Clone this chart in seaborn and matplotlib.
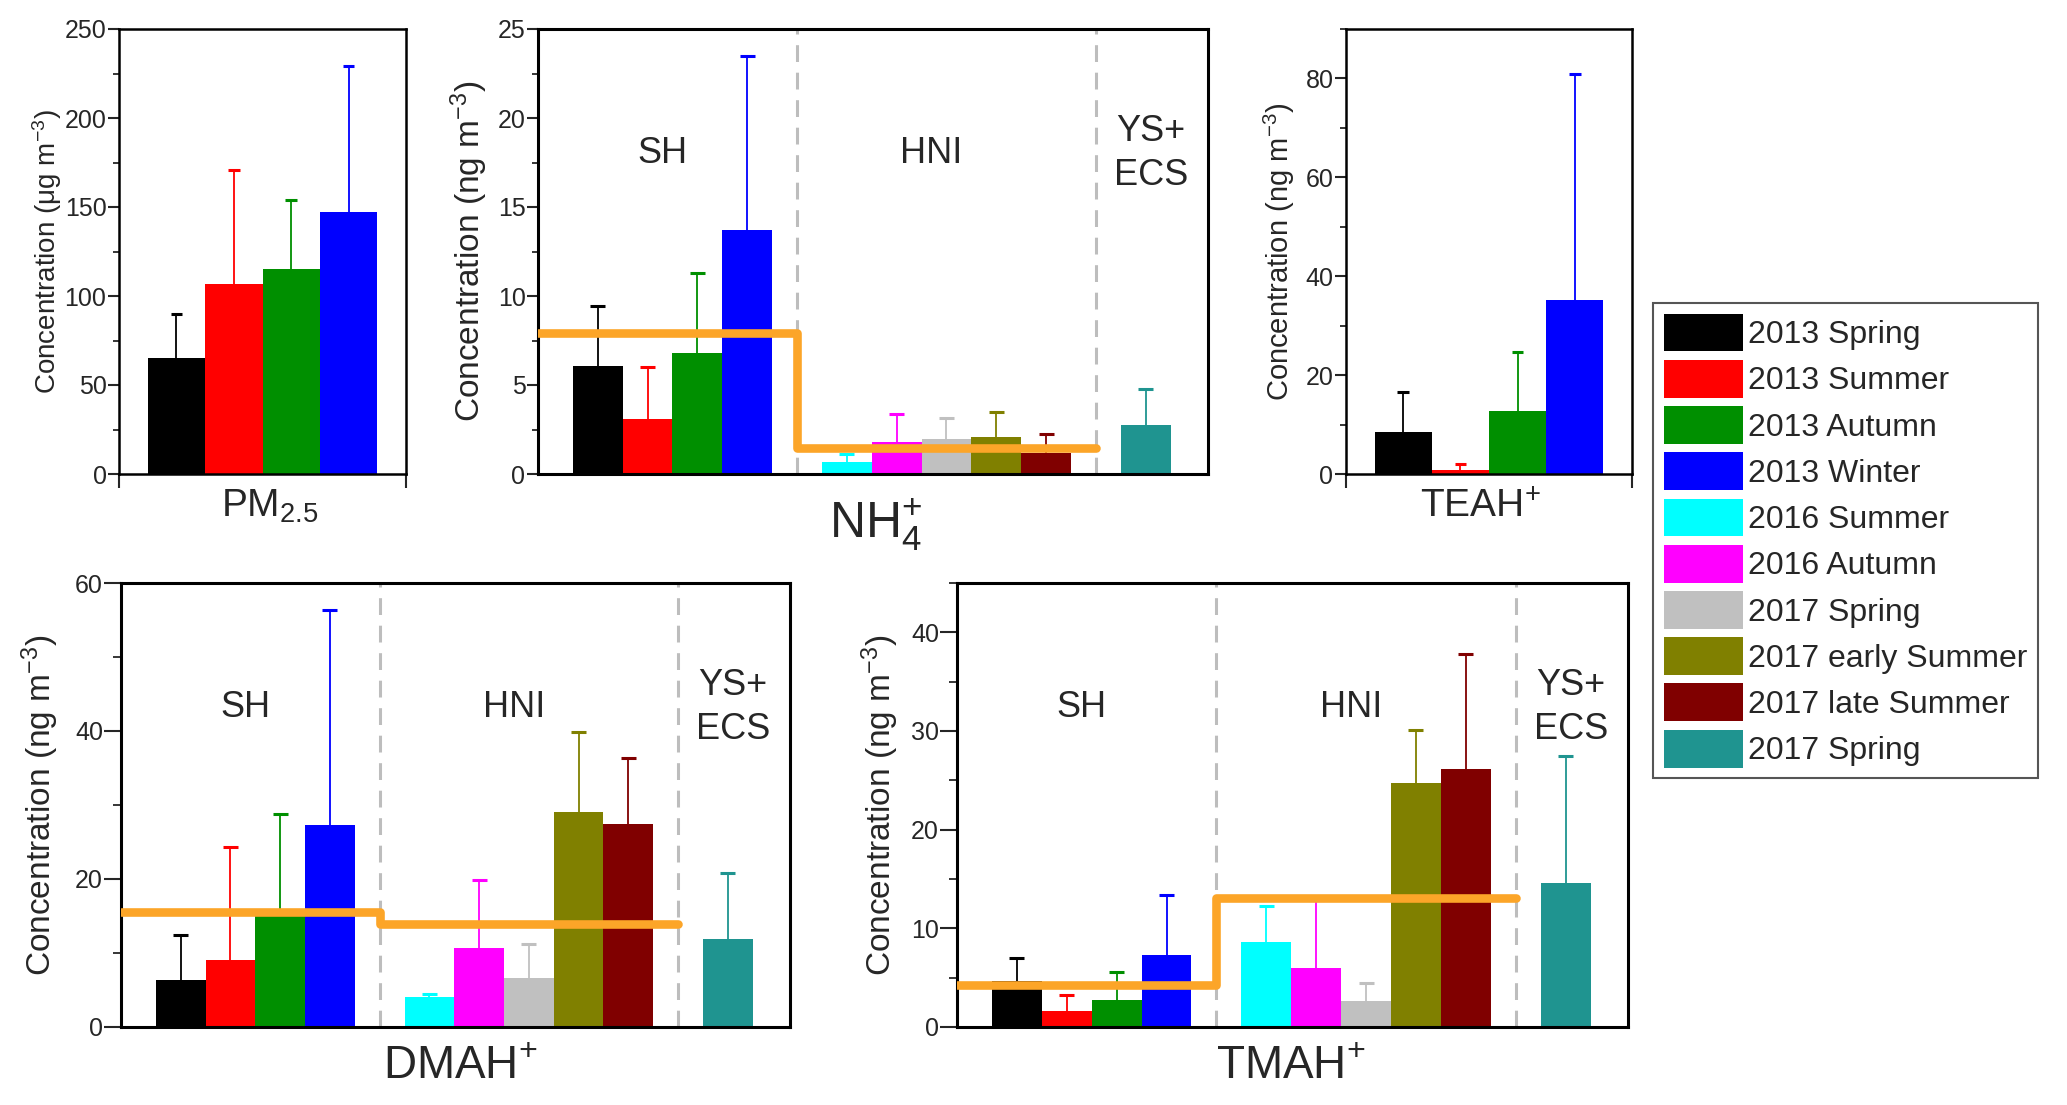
import numpy as np
import pandas as pd
import matplotlib
matplotlib.use("Agg")
import matplotlib.pyplot as plt
import matplotlib.transforms as mtransforms
from matplotlib.patches import Patch
from matplotlib.ticker import MultipleLocator
import seaborn as sns

# ---------------- data ----------------
series_labels = ["2013 Spring", "2013 Summer", "2013 Autumn", "2013 Winter",
                 "2016 Summer", "2016 Autumn", "2017 Spring",
                 "2017 early Summer", "2017 late Summer", "2017 Spring"]
series_colors = ["#000000", "#FF0000", "#008F00", "#0000FF", "#00FFFF",
                 "#FF00FF", "#C0C0C0", "#808000", "#800000", "#1F9490"]
region_labels = ["SH", "HNI", "YS+\nECS"]
region_sizes = [4, 5, 1]

pm25_mean = [65, 107, 115, 147]
pm25_sd = [25, 64, 39, 82]

nh4_mean = [6.06, 3.11, 6.81, 13.73, 0.66, 1.81, 1.99, 2.07, 1.2, 2.75]
nh4_sd = [3.36, 2.89, 4.46, 9.76, 0.44, 1.54, 1.16, 1.41, 1.05, 2.03]
nh4_region_mean = [7.9, 1.45]

teah_mean = [8.47, 0.87, 12.67, 35.1]
teah_sd = [8.2, 1.2, 12.1, 45.7]

dmah_mean = [6.39, 9.07, 15.0, 27.3, 4.0, 10.7, 6.58, 29.0, 27.4, 11.9]
dmah_sd = [6.0, 15.2, 13.8, 29.1, 0.46, 9.2, 4.7, 10.8, 9.0, 8.9]
dmah_region_mean = [15.5, 13.9]

tmah_mean = [4.69, 1.62, 2.75, 7.26, 8.63, 6.03, 2.64, 24.78, 26.19, 14.56]
tmah_sd = [2.29, 1.66, 2.82, 6.1, 3.63, 6.85, 1.84, 5.35, 11.6, 12.93]
tmah_region_mean = [4.26, 13.07]

# ---------------- style ----------------
sns.set_style("ticks")
plt.rcParams["font.family"] = ["Liberation Sans", "DejaVu Sans"]
plt.rcParams["mathtext.fontset"] = "custom"
plt.rcParams["mathtext.rm"] = "Liberation Sans"
plt.rcParams["mathtext.it"] = "Liberation Sans:italic"
plt.rcParams["mathtext.bf"] = "Liberation Sans:bold"

W, H = 2067, 1105
fig = plt.figure(figsize=(W / 100, H / 100), dpi=100)
fig.patch.set_facecolor("white")


def axes_px(left, right, top, bottom):
    return fig.add_axes([left / W, 1 - bottom / H, (right - left) / W, (bottom - top) / H])


ORANGE = "#FCA528"
DIV_COLOR = "#BDBDBD"


def bar_positions(sizes):
    pos, dividers = [], []
    x = 1.2
    for gi, n in enumerate(sizes):
        for _ in range(n):
            pos.append(x)
            x += 1.0
        if gi < len(sizes) - 1:
            dividers.append(x)
        x += 1.0
    return np.round(np.array(pos), 3), dividers


def draw_bars(ax, pos, mean, sd, colors, cap=0.15):
    keys = [f"s{i}" for i in range(len(mean))]
    df = pd.DataFrame({"x": pos, "y": mean, "key": keys})
    sns.barplot(data=df, x="x", y="y", hue="key", palette=dict(zip(keys, colors)),
                native_scale=True, dodge=False, legend=False, width=1.0,
                errorbar=None, saturation=1, linewidth=0, ax=ax, zorder=2)
    mean = np.asarray(mean, float)
    top = mean + np.asarray(sd, float)
    ax.vlines(pos, mean, top, colors=colors, lw=1.3, zorder=1.8)
    ax.hlines(top, pos - cap, pos + cap, colors=colors, lw=2.2, zorder=1.8)


def style_axes(ax, ymax, major, minor, ticklen, spine_lw=1.8):
    ax.set_ylim(0, ymax)
    ax.yaxis.set_major_locator(MultipleLocator(major))
    ax.yaxis.set_minor_locator(MultipleLocator(minor))
    for s in ax.spines.values():
        s.set_visible(True)
        s.set_linewidth(spine_lw)
        s.set_color("black")
    ax.tick_params(axis="y", which="major", direction="out", length=ticklen, width=1.5,
                   labelsize=18, pad=1, left=True, right=False)
    ax.tick_params(axis="y", which="minor", direction="out", length=ticklen / 2, width=1.3,
                   left=True, right=False)
    ax.grid(False)
    ax.set_facecolor("white")


def ylabel(ax, unit, size, xfrac):
    ax.set_ylabel("Concentration (" + unit + " m$^{-3}$)", fontsize=size)
    ax.yaxis.set_label_coords(xfrac, 0.5)


def xlabel(ax, text, size, xfrac, yfrac):
    ax.set_xlabel(text, fontsize=size)
    ax.xaxis.set_label_coords(xfrac, yfrac)


def regions(ax, dividers, level, xlim):
    for d in dividers:
        ax.axvline(d, color=DIV_COLOR, lw=2.2, ls=(0, (5.5, 3.5)), zorder=1)
    trans = mtransforms.blended_transform_factory(ax.transData, ax.transAxes)
    for lab, xc in zip(region_labels, [2.5, 7.9, 12.3]):
        ax.text(xc, 0.72, lab, transform=trans, ha="center", va="center",
                fontsize=26, linespacing=1.35)
    xs = [xlim[0], dividers[0], dividers[0], dividers[1]]
    ys = [level[0], level[0], level[1], level[1]]
    sns.lineplot(x=xs, y=ys, sort=False, estimator=None, color=ORANGE, lw=6.2,
                 solid_capstyle="round", solid_joinstyle="round", ax=ax, zorder=6)


pos10, dividers = bar_positions(region_sizes)
pos4 = np.arange(1, 5, dtype=float)
XLIM_WIDE = (0, 13.45)
XLIM_SMALL = (0, 5.0)

# ---------------- PM2.5 ----------------
ax = axes_px(119, 406, 29, 474)
draw_bars(ax, pos4, pm25_mean, pm25_sd, series_colors[:4], cap=0.1)
style_axes(ax, 250, 50, 25, 8)
ax.set_xlim(*XLIM_SMALL)
ax.set_xticks(list(XLIM_SMALL))
ax.set_xticklabels(["", ""])
ax.tick_params(axis="x", direction="out", length=10, width=1.5, bottom=True)
ylabel(ax, "μg", 20, -0.19)
xlabel(ax, "$\\mathregular{PM_{2.5}}$", 28, 0.526, -0.03)

# ---------------- NH4+ ----------------
ax = axes_px(538, 1208, 29, 474)
draw_bars(ax, pos10, nh4_mean, nh4_sd, series_colors)
style_axes(ax, 25, 5, 2.5, 8, spine_lw=2.2)
ax.set_xlim(*XLIM_WIDE)
ax.set_xticks([])
regions(ax, dividers, nh4_region_mean, XLIM_WIDE)
ylabel(ax, "ng", 24, -0.072)
xlabel(ax, "$\\mathregular{NH_4^{+}}$", 36, 0.504, -0.05)

# ---------------- TEAH+ ----------------
ax = axes_px(1346, 1632, 29, 474)
draw_bars(ax, pos4, teah_mean, teah_sd, series_colors[:4], cap=0.1)
style_axes(ax, 90, 20, 10, 8)
ax.set_xlim(*XLIM_SMALL)
ax.set_xticks(list(XLIM_SMALL))
ax.set_xticklabels(["", ""])
ax.tick_params(axis="x", direction="out", length=10, width=1.5, bottom=True)
ylabel(ax, "ng", 21, -0.171)
xlabel(ax, "$\\mathregular{TEAH^{+}}$", 28, 0.47, -0.035)

# ---------------- DMAH+ ----------------
ax = axes_px(121, 790, 583, 1027)
draw_bars(ax, pos10, dmah_mean, dmah_sd, series_colors)
style_axes(ax, 60, 20, 10, 12, spine_lw=2.2)
ax.set_xlim(*XLIM_WIDE)
ax.set_xticks([])
regions(ax, dividers, dmah_region_mean, XLIM_WIDE)
ylabel(ax, "ng", 24, -0.09)
xlabel(ax, "$\\mathregular{DMAH^{+}}$", 33, 0.507, -0.04)

# ---------------- TMAH+ ----------------
ax = axes_px(957, 1628, 583, 1027)
draw_bars(ax, pos10, tmah_mean, tmah_sd, series_colors)
style_axes(ax, 45, 10, 5, 12, spine_lw=2.2)
ax.set_xlim(*XLIM_WIDE)
ax.set_xticks([])
regions(ax, dividers, tmah_region_mean, XLIM_WIDE)
ylabel(ax, "ng", 24, -0.084)
xlabel(ax, "$\\mathregular{TMAH^{+}}$", 33, 0.497, -0.04)

# ---------------- legend ----------------
handles = [Patch(facecolor=c, edgecolor="none", label=l)
           for c, l in zip(series_colors, series_labels)]
leg = fig.legend(handles=handles, loc="upper left",
                 bbox_to_anchor=(1653 / W, 1 - 303 / H), fontsize=23,
                 handlelength=2.5, handleheight=1.45, labelspacing=0.26,
                 handletextpad=0.15, borderpad=0.33, borderaxespad=0,
                 frameon=True, fancybox=False, framealpha=1, edgecolor="#555555")
leg.get_frame().set_linewidth(1.5)

fig.savefig("out.png", dpi=100, facecolor="white")
